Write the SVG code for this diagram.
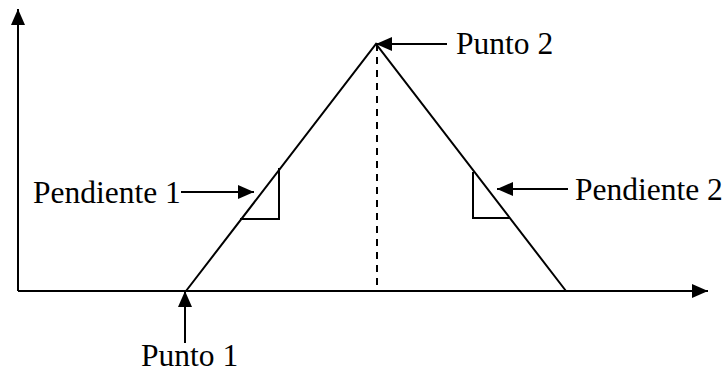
<svg xmlns="http://www.w3.org/2000/svg" width="725" height="374" viewBox="0 0 725 374">
<style>
.ln{stroke:#000;stroke-width:2;fill:none}
.ar{stroke:#000;stroke-width:2;fill:none;marker-end:url(#ah)}
.lb{font-family:"Liberation Serif","Times New Roman",Times,serif;font-size:31.5px;fill:#000}
</style>
<defs>
<marker id="ah" markerUnits="userSpaceOnUse" markerWidth="17" markerHeight="14" refX="16" refY="7" orient="auto">
<path d="M0,0 L16,7 L0,14 z" fill="#000"/>
</marker>
</defs>
<rect width="725" height="374" fill="#fff"/>
<g id="axes">
<line class="ar" x1="18" y1="291" x2="18" y2="9"/>
<line class="ar" x1="18" y1="291" x2="708" y2="291"/>
</g>
<g id="curve">
<polyline class="ln" points="186,291 376,44 566,291"/>
<line class="ln" x1="377" y1="44" x2="377" y2="291" stroke-dasharray="7,6"/>
<polyline class="ln" points="240,219 279,219 279,168"/>
<polyline class="ln" points="473,172 473,218 510,218"/>
</g>
<g id="connectors">
<line class="ar" x1="447" y1="44" x2="376" y2="44"/>
<line class="ar" x1="181" y1="192" x2="254" y2="192"/>
<line class="ar" x1="568" y1="189" x2="497" y2="189"/>
<line class="ar" x1="185" y1="343" x2="185" y2="291"/>
</g>
<g id="punto2"><text class="lb" x="456" y="54">Punto 2</text></g>
<g id="pendiente1"><text class="lb" x="33" y="203">Pendiente 1</text></g>
<g id="pendiente2"><text class="lb" x="575" y="200">Pendiente 2</text></g>
<g id="punto1"><text class="lb" x="141" y="366">Punto 1</text></g>
</svg>
